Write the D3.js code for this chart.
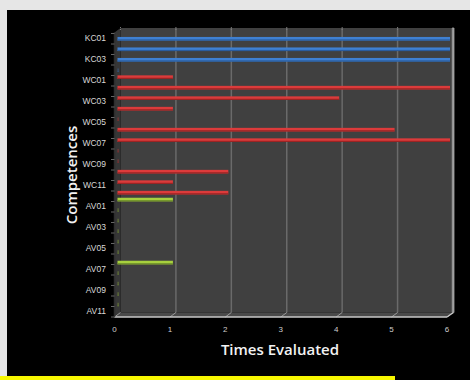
<!DOCTYPE html>
<html>
<head>
<meta charset="utf-8">
<script src="https://cdn.jsdelivr.net/npm/d3@7"></script>
<style>
  html, body { margin: 0; padding: 0; background: #e6e6e6; }
  svg { display: block; }
</style>
</head>
<body>
<svg id="chart" width="470" height="380"></svg>
<script>
// Competence codes, top to bottom
const categories = [
  "KC01","KC02","KC03","KC04",
  "WC01","WC02","WC03","WC04","WC05","WC06","WC07","WC08","WC09","WC10","WC11","WC12",
  "AV01","AV02","AV03","AV04","AV05","AV06","AV07","AV08","AV09","AV10","AV11"
];
// Times each competence was evaluated, one array per competence group
const kcValues = [6, 6, 6, 0];
const wcValues = [1, 6, 4, 1, 0, 5, 6, 0, 0, 2, 1, 2];
const avValues = [1, 0, 0, 0, 0, 0, 1, 0, 0, 0, 0];
const seriesNames = ["KC", "WC", "AV"];
const xTicks = [0, 1, 2, 3, 4, 5, 6];
const xTitle = "Times Evaluated";
const yTitle = "Competences";

const colors = {
  KC: { face: "#3f80d2", shade: "#2a5c9e" },
  WC: { face: "#dc3b3b", shade: "#992424" },
  AV: { face: "#a7d03e", shade: "#6f8f2a" }
};

// Flatten into one record per competence
const rows = [];
kcValues.forEach((v, i) => rows.push({ cat: categories[i], series: "KC", value: v }));
wcValues.forEach((v, i) => rows.push({ cat: categories[4 + i], series: "WC", value: v }));
avValues.forEach((v, i) => rows.push({ cat: categories[16 + i], series: "AV", value: v }));

const svg = d3.select("#chart");

// dark panel and highlight strip
svg.append("rect").attr("x", 7).attr("y", 10).attr("width", 463).attr("height", 370).attr("fill", "#000");
svg.append("rect").attr("x", 0).attr("y", 376).attr("width", 395).attr("height", 4).attr("fill", "#f7f700");

// front plane geometry and 3D depth
const pL = 114.5, pR = 447, pT = 32.5, pB = 317;
const depthX = 6, depthY = -4.5;

const x = d3.scaleLinear().domain([0, 6]).range([pL, pR]);
const y = d3.scaleBand().domain(categories).range([33.5, pB]).padding(0);
// series slots inside each category cluster
const ys = d3.scaleBand().domain(["AV", "WC", "KC"]).range([-5.4, 5.4]).padding(0);

// back wall
svg.append("rect")
  .attr("x", pL + depthX).attr("y", pT + depthY)
  .attr("width", pR - pL).attr("height", pB - pT)
  .attr("fill", "#404040");

// side wall
svg.append("path")
  .attr("d", `M${pL},${pT} L${pL + depthX},${pT + depthY} L${pL + depthX},${pB + depthY} L${pL},${pB} Z`)
  .attr("fill", "#363636");

// floor
svg.append("path")
  .attr("d", `M${pL},${pB} L${pL + depthX},${pB + depthY} L${pR + depthX},${pB + depthY} L${pR},${pB} Z`)
  .attr("fill", "#4a4a4a");

// vertical gridlines on the back wall
svg.append("g").selectAll("line").data(xTicks.slice(1)).join("line")
  .attr("x1", d => x(d) + depthX).attr("x2", d => x(d) + depthX)
  .attr("y1", pT + depthY).attr("y2", pB + depthY)
  .attr("stroke", d => d === 6 ? "#8f8f8f" : "#6a6a6a")
  .attr("stroke-width", d => d === 6 ? 2.5 : 1.5);

// gridline continuations across the floor
svg.append("g").selectAll("line").data(xTicks).join("line")
  .attr("x1", d => x(d)).attr("x2", d => x(d) + depthX)
  .attr("y1", pB).attr("y2", pB + depthY)
  .attr("stroke", "#9a9a9a").attr("stroke-width", 1);

// small marks above the gridlines
svg.append("g").selectAll("line").data(xTicks).join("line")
  .attr("x1", d => x(d) + depthX).attr("x2", d => x(d) + depthX)
  .attr("y1", pT + depthY - 1).attr("y2", pT + depthY + 3)
  .attr("stroke", "#7a7a7a").attr("stroke-width", 1).attr("stroke-dasharray", "1,1");

// bars, drawn half way into the depth
const barDx = depthX / 2;
const barDy = -3.6;
const barH = 3.6;
const bars = svg.append("g");
rows.forEach(r => {
  const yc = y(r.cat) + y.bandwidth() / 2 + ys(r.series) + ys.bandwidth() / 2 + barDy;
  const x0 = x(0) + barDx;
  const w = Math.max(x(r.value) - x(0), 1.2);
  const c = colors[r.series];
  const op = r.value === 0 ? 0.4 : 1;
  bars.append("rect")
    .attr("x", x0).attr("y", yc - barH / 2)
    .attr("width", w).attr("height", barH)
    .attr("fill", c.face).attr("opacity", op);
  bars.append("rect")
    .attr("x", x0).attr("y", yc + barH / 2 - 1.2)
    .attr("width", w).attr("height", 1.2)
    .attr("fill", c.shade).attr("opacity", op);
});

// front floor edge (x axis line)
svg.append("line")
  .attr("x1", pL).attr("x2", pR).attr("y1", pB).attr("y2", pB)
  .attr("stroke", "#c8c8c8").attr("stroke-width", 1.5);
// right edge of the back wall
svg.append("line")
  .attr("x1", pR + depthX + 0.5).attr("x2", pR + depthX + 0.5)
  .attr("y1", pT + depthY).attr("y2", pB + depthY)
  .attr("stroke", "#a0a0a0").attr("stroke-width", 1.5);
svg.append("line")
  .attr("x1", pR).attr("x2", pR + depthX + 0.5)
  .attr("y1", pB).attr("y2", pB + depthY)
  .attr("stroke", "#c8c8c8").attr("stroke-width", 1.2);

// y axis line and ticks
svg.append("line")
  .attr("x1", pL).attr("x2", pL).attr("y1", pT).attr("y2", pB)
  .attr("stroke", "#2e2e2e").attr("stroke-width", 1.5);
const yTickPos = d3.range(categories.length + 1).map(i => 33.5 + i * y.step());
svg.append("g").selectAll("line").data(yTickPos).join("line")
  .attr("x1", pL - 3.5).attr("x2", pL).attr("y1", d => d).attr("y2", d => d)
  .attr("stroke", "#666").attr("stroke-width", 1);

// y labels: every other competence
svg.append("g").selectAll("text").data(categories.filter((d, i) => i % 2 === 0)).join("text")
  .attr("x", 106).attr("y", d => y(d) + y.bandwidth() / 2 + 0.3)
  .attr("text-anchor", "end").attr("dominant-baseline", "middle")
  .attr("font-family", "Liberation Sans, Arial, sans-serif").attr("font-size", 8.5)
  .attr("fill", "#d8d8d8").text(d => d);

// x tick labels
svg.append("g").selectAll("text").data(xTicks).join("text")
  .attr("x", d => x(d)).attr("y", 329.5)
  .attr("text-anchor", "middle").attr("dominant-baseline", "middle")
  .attr("font-family", "Liberation Sans, Arial, sans-serif").attr("font-size", 8)
  .attr("fill", "#cfcfcf").text(d => d);

// axis titles
svg.append("text")
  .attr("x", 280).attr("y", 355)
  .attr("text-anchor", "middle")
  .attr("font-family", "Open Sans, sans-serif").attr("font-weight", 600).attr("font-size", 15)
  .attr("fill", "#f2f2f2").text(xTitle);
svg.append("text")
  .attr("transform", "translate(77,175) rotate(-90)")
  .attr("text-anchor", "middle")
  .attr("font-family", "Open Sans, sans-serif").attr("font-weight", 600).attr("font-size", 15)
  .attr("fill", "#f2f2f2").text(yTitle);
</script>
</body>
</html>
